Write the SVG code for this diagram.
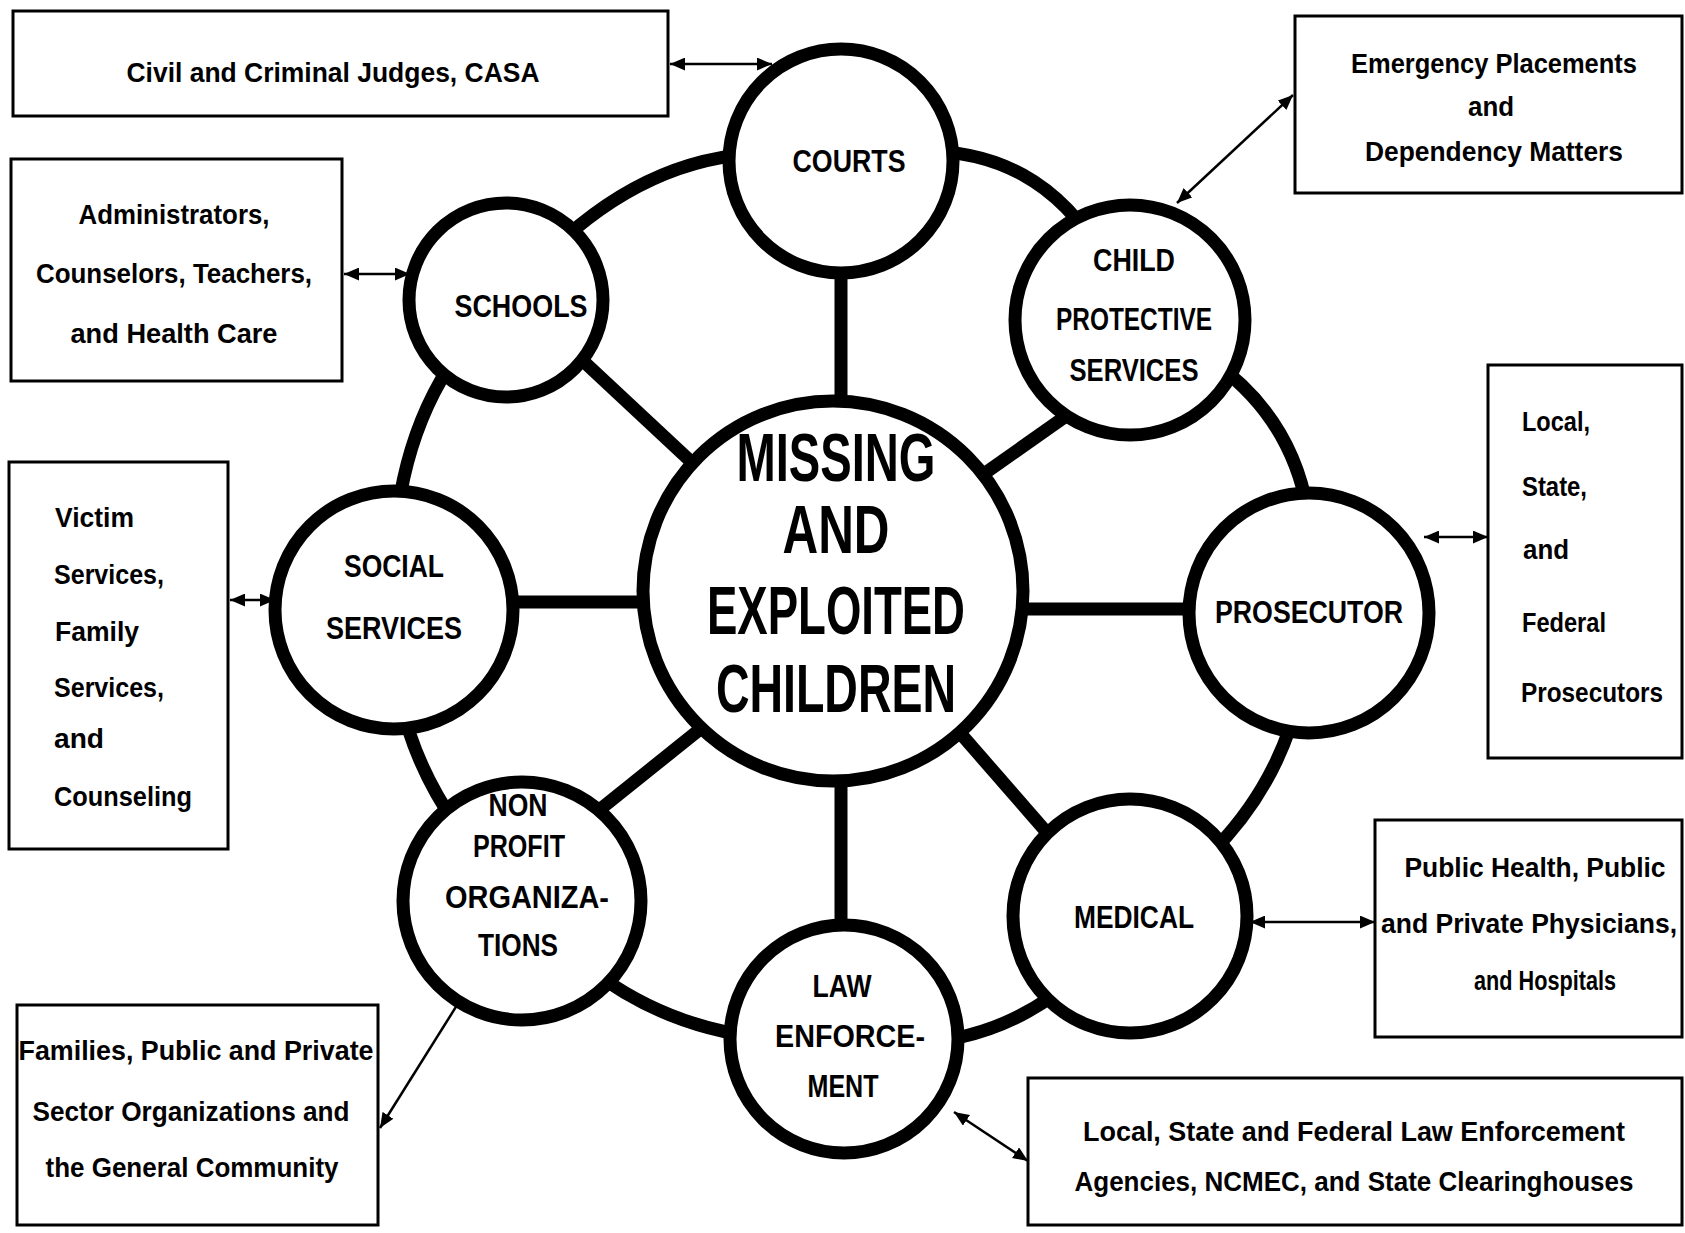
<svg xmlns="http://www.w3.org/2000/svg" width="1685" height="1233" viewBox="0 0 1685 1233">
<style>
.bx{fill:#fff;stroke:#000;stroke-width:3}
.nd{fill:#fff;stroke:#000;stroke-width:13}
.ln{fill:none;stroke:#000;stroke-width:13}
.ar{fill:none;stroke:#000;stroke-width:2.5;marker-start:url(#ah);marker-end:url(#ah)}
.bt{font-family:"Liberation Sans",Arial,sans-serif;font-weight:bold;font-size:27px;fill:#000}
.ct{text-anchor:middle}
.nt{font-family:"Liberation Sans Narrow","Liberation Sans",Arial,sans-serif;font-weight:bold;font-size:31px;fill:#000;text-anchor:middle}
.mt{font-family:"Liberation Sans Narrow","Liberation Sans",Arial,sans-serif;font-weight:bold;font-size:68px;fill:#000;text-anchor:middle}
</style>
<defs>
<marker id="ah" viewBox="0 0 14 12" refX="14" refY="6" markerWidth="15" markerHeight="13" markerUnits="userSpaceOnUse" orient="auto-start-reverse">
<path d="M0,0 L14,6 L0,12 Z" fill="#000"/>
</marker>
</defs>
<rect width="1685" height="1233" fill="#fff"/>
<g id="connectors">
<path class="ln" d="M506,300 Q652,119 841,161"/>
<path class="ln" d="M841,161 Q1060,109 1130,320"/>
<path class="ln" d="M1130,320 Q1336,393 1309,613"/>
<path class="ln" d="M1309,613 Q1306,809 1130,916"/>
<path class="ln" d="M1130,916 Q1023,1068 844,1039"/>
<path class="ln" d="M844,1039 Q643,1054 522,901"/>
<path class="ln" d="M522,901 Q384,770 394,610"/>
<path class="ln" d="M394,610 Q384,409 506,300"/>
<line class="ln" x1="841" y1="161" x2="841" y2="591"/>
<line class="ln" x1="841" y1="591" x2="841" y2="1039"/>
<line class="ln" x1="394" y1="602" x2="833" y2="602"/>
<line class="ln" x1="833" y1="609" x2="1309" y2="609"/>
<line class="ln" x1="506" y1="289" x2="760" y2="526"/>
<line class="ln" x1="900" y1="533" x2="1130" y2="371"/>
<line class="ln" x1="522" y1="872" x2="780" y2="665"/>
<line class="ln" x1="880" y1="641" x2="1130" y2="928"/>
<line class="ar" x1="670" y1="64" x2="772" y2="64"/>
<line class="ar" x1="344" y1="274" x2="410" y2="274"/>
<line class="ar" x1="1177" y1="203" x2="1293" y2="95"/>
<line class="ar" x1="230" y1="600" x2="275" y2="600"/>
<line class="ar" x1="1424" y1="537" x2="1488" y2="537"/>
<line class="ar" x1="464" y1="994" x2="380" y2="1128"/>
<line class="ar" x1="1250" y1="922" x2="1375" y2="922"/>
<line class="ar" x1="954" y1="1112" x2="1028" y2="1161"/>
</g>
<g id="center">
<circle class="nd" cx="833" cy="591" r="190"/>
<text class="mt" x="836" y="481" textLength="199" lengthAdjust="spacingAndGlyphs">MISSING</text>
<text class="mt" x="836" y="553" textLength="107" lengthAdjust="spacingAndGlyphs">AND</text>
<text class="mt" x="836" y="634" textLength="258" lengthAdjust="spacingAndGlyphs">EXPLOITED</text>
<text class="mt" x="836" y="712" textLength="240" lengthAdjust="spacingAndGlyphs">CHILDREN</text>
</g>
<g id="courts">
<circle class="nd" cx="841" cy="161" r="112"/>
<text class="nt" x="849" y="172" textLength="113" lengthAdjust="spacingAndGlyphs">COURTS</text>
</g>
<g id="schools">
<circle class="nd" cx="506" cy="300" r="97"/>
<text class="nt" x="521" y="317" textLength="133" lengthAdjust="spacingAndGlyphs">SCHOOLS</text>
</g>
<g id="cps">
<circle class="nd" cx="1130" cy="320" r="115"/>
<text class="nt" x="1134" y="271" textLength="82" lengthAdjust="spacingAndGlyphs">CHILD</text>
<text class="nt" x="1134" y="330" textLength="156" lengthAdjust="spacingAndGlyphs">PROTECTIVE</text>
<text class="nt" x="1134" y="381" textLength="129" lengthAdjust="spacingAndGlyphs">SERVICES</text>
</g>
<g id="social">
<circle class="nd" cx="394" cy="610" r="119"/>
<text class="nt" x="394" y="577" textLength="100" lengthAdjust="spacingAndGlyphs">SOCIAL</text>
<text class="nt" x="394" y="639" textLength="136" lengthAdjust="spacingAndGlyphs">SERVICES</text>
</g>
<g id="prosecutor">
<circle class="nd" cx="1309" cy="613" r="120"/>
<text class="nt" x="1309" y="623" textLength="188" lengthAdjust="spacingAndGlyphs">PROSECUTOR</text>
</g>
<g id="nonprofit">
<circle class="nd" cx="522" cy="901" r="119"/>
<text class="nt" x="518" y="816" textLength="59" lengthAdjust="spacingAndGlyphs">NON</text>
<text class="nt" x="519" y="857" textLength="92" lengthAdjust="spacingAndGlyphs">PROFIT</text>
<text class="nt" x="527" y="908" textLength="164" lengthAdjust="spacingAndGlyphs">ORGANIZA-</text>
<text class="nt" x="518" y="956" textLength="80" lengthAdjust="spacingAndGlyphs">TIONS</text>
</g>
<g id="medical">
<circle class="nd" cx="1130" cy="916" r="117"/>
<text class="nt" x="1134" y="928" textLength="120" lengthAdjust="spacingAndGlyphs">MEDICAL</text>
</g>
<g id="law">
<circle class="nd" cx="844" cy="1039" r="114"/>
<text class="nt" x="842" y="997" textLength="59" lengthAdjust="spacingAndGlyphs">LAW</text>
<text class="nt" x="850" y="1047" textLength="150" lengthAdjust="spacingAndGlyphs">ENFORCE-</text>
<text class="nt" x="843" y="1097" textLength="71" lengthAdjust="spacingAndGlyphs">MENT</text>
</g>
<g id="box-courts">
<rect class="bx" x="13" y="11" width="655" height="105"/>
<text class="bt ct" x="333" y="82" textLength="413" lengthAdjust="spacingAndGlyphs">Civil and Criminal Judges, CASA</text>
</g>
<g id="box-schools">
<rect class="bx" x="11" y="159" width="331" height="222"/>
<text class="bt ct" x="174" y="224" textLength="191" lengthAdjust="spacingAndGlyphs">Administrators,</text>
<text class="bt ct" x="174" y="283" textLength="276" lengthAdjust="spacingAndGlyphs">Counselors, Teachers,</text>
<text class="bt ct" x="174" y="343" textLength="207" lengthAdjust="spacingAndGlyphs">and Health Care</text>
</g>
<g id="box-social">
<rect class="bx" x="9" y="462" width="219" height="387"/>
<text class="bt" x="55" y="527" textLength="79" lengthAdjust="spacingAndGlyphs">Victim</text>
<text class="bt" x="54" y="584" textLength="110" lengthAdjust="spacingAndGlyphs">Services,</text>
<text class="bt" x="55" y="641" textLength="84" lengthAdjust="spacingAndGlyphs">Family</text>
<text class="bt" x="54" y="697" textLength="110" lengthAdjust="spacingAndGlyphs">Services,</text>
<text class="bt" x="54" y="748" textLength="50" lengthAdjust="spacingAndGlyphs">and</text>
<text class="bt" x="54" y="806" textLength="138" lengthAdjust="spacingAndGlyphs">Counseling</text>
</g>
<g id="box-nonprofit">
<rect class="bx" x="17" y="1005" width="361" height="220"/>
<text class="bt ct" x="196" y="1060" textLength="355" lengthAdjust="spacingAndGlyphs">Families, Public and Private</text>
<text class="bt ct" x="191" y="1121" textLength="317" lengthAdjust="spacingAndGlyphs">Sector Organizations and</text>
<text class="bt ct" x="192" y="1177" textLength="293" lengthAdjust="spacingAndGlyphs">the General Community</text>
</g>
<g id="box-cps">
<rect class="bx" x="1295" y="16" width="387" height="177"/>
<text class="bt ct" x="1494" y="73" textLength="286" lengthAdjust="spacingAndGlyphs">Emergency Placements</text>
<text class="bt ct" x="1491" y="116" textLength="46" lengthAdjust="spacingAndGlyphs">and</text>
<text class="bt ct" x="1494" y="161" textLength="258" lengthAdjust="spacingAndGlyphs">Dependency  Matters</text>
</g>
<g id="box-prosecutor">
<rect class="bx" x="1488" y="365" width="194" height="393"/>
<text class="bt" x="1522" y="431" textLength="68" lengthAdjust="spacingAndGlyphs">Local,</text>
<text class="bt" x="1522" y="496" textLength="65" lengthAdjust="spacingAndGlyphs">State,</text>
<text class="bt" x="1523" y="559" textLength="46" lengthAdjust="spacingAndGlyphs">and</text>
<text class="bt" x="1522" y="632" textLength="84" lengthAdjust="spacingAndGlyphs">Federal</text>
<text class="bt" x="1521" y="702" textLength="142" lengthAdjust="spacingAndGlyphs">Prosecutors</text>
</g>
<g id="box-medical">
<rect class="bx" x="1375" y="820" width="307" height="217"/>
<text class="bt ct" x="1535" y="877" textLength="261" lengthAdjust="spacingAndGlyphs">Public Health, Public</text>
<text class="bt ct" x="1529" y="933" textLength="296" lengthAdjust="spacingAndGlyphs">and Private Physicians,</text>
<text class="bt ct" x="1545" y="990" textLength="142" lengthAdjust="spacingAndGlyphs">and Hospitals</text>
</g>
<g id="box-law">
<rect class="bx" x="1028" y="1078" width="654" height="147"/>
<text class="bt ct" x="1354" y="1141" textLength="542" lengthAdjust="spacingAndGlyphs">Local, State and Federal Law Enforcement</text>
<text class="bt ct" x="1354" y="1191" textLength="559" lengthAdjust="spacingAndGlyphs">Agencies, NCMEC, and State Clearinghouses</text>
</g>
</svg>
